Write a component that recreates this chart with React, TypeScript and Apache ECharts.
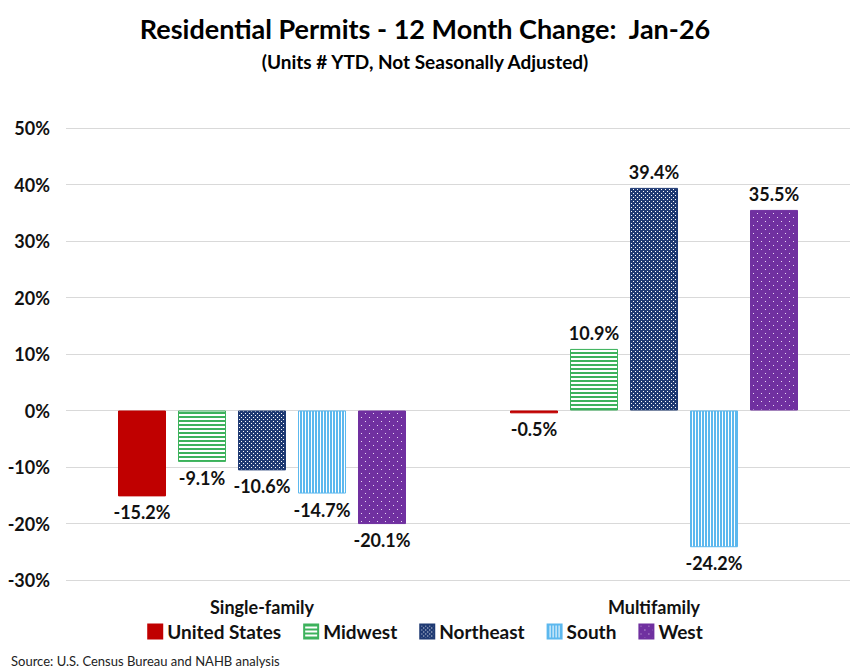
import React, { useEffect, useRef } from "react";
import * as echarts from "echarts";

const categories = ["Single-family", "Multifamily"];
const seriesNames = ["United States", "Midwest", "Northeast", "South", "West"];
const usValues = [-15.2, -0.5];
const midwestValues = [-9.1, 10.9];
const northeastValues = [-10.6, 39.4];
const southValues = [-14.7, -24.2];
const westValues = [-20.1, 35.5];
const yTicks = { min: -30, max: 50, interval: 10 };

const FONT = "Lato";

function makePattern(kind: string): any {
  const c = document.createElement("canvas");
  const ctx = c.getContext("2d")!;
  if (kind === "us") {
    return "#C00000";
  }
  if (kind === "midwest") {
    c.width = 4; c.height = 4;
    ctx.fillStyle = "#ffffff"; ctx.fillRect(0, 0, 4, 4);
    ctx.fillStyle = "#3DB25C"; ctx.fillRect(0, 0, 4, 2);
  } else if (kind === "northeast") {
    c.width = 4; c.height = 4;
    ctx.fillStyle = "#1F3A73"; ctx.fillRect(0, 0, 4, 4);
    ctx.fillStyle = "#ffffff"; ctx.fillRect(1, 1, 1, 1); ctx.fillRect(3, 3, 1, 1);
  } else if (kind === "south") {
    c.width = 3; c.height = 3;
    ctx.fillStyle = "#ffffff"; ctx.fillRect(0, 0, 3, 3);
    ctx.fillStyle = "#5CB8EE"; ctx.fillRect(0, 0, 2, 3);
  } else if (kind === "west") {
    c.width = 8; c.height = 8;
    ctx.fillStyle = "#7030A0"; ctx.fillRect(0, 0, 8, 8);
    ctx.fillStyle = "#E8D8F2"; ctx.fillRect(1, 1, 1, 1); ctx.fillRect(5, 5, 1, 1);
  }
  return { image: c, repeat: "repeat" };
}

export default function App() {
  const ref = useRef<HTMLDivElement>(null);
  useEffect(() => {
    document.body.style.margin = "0";
    const chart = echarts.init(ref.current!, null, { renderer: "svg" });
    const defs = [
      { name: seriesNames[0], data: usValues, kind: "us", border: "#C00000" },
      { name: seriesNames[1], data: midwestValues, kind: "midwest", border: "#3DB25C" },
      { name: seriesNames[2], data: northeastValues, kind: "northeast", border: "#1F3A73" },
      { name: seriesNames[3], data: southValues, kind: "south", border: "#5CB8EE" },
      { name: seriesNames[4], data: westValues, kind: "west", border: "#7030A0" },
    ];
    const series = defs.map((d) => ({
      name: d.name,
      type: "bar",
      barWidth: 48,
      barGap: "25%",
      itemStyle: { color: makePattern(d.kind), borderColor: d.border, borderWidth: 1 },
      data: d.data.map((v) => ({
        value: v,
        label: {
          show: true,
          position: v < 0 ? "bottom" : "top",
          distance: 7,
          formatter: (p: any) => p.value.toFixed(1) + "%",
          fontFamily: FONT,
          fontWeight: "bold",
          fontSize: 18,
          color: "#111",
        },
      })),
    }));
    chart.setOption({
      animation: false,
      title: [
        {
          text: "Residential Permits - 12 Month Change:  Jan-26",
          left: "center",
          top: 10,
          textStyle: { fontFamily: FONT, fontWeight: "bold", fontSize: 27, color: "#000" },
        },
        {
          text: "(Units # YTD, Not Seasonally Adjusted)",
          left: "center",
          top: 47,
          textStyle: { fontFamily: FONT, fontWeight: "bold", fontSize: 19, color: "#000" },
        },
        {
          text: "Source: U.S. Census Bureau and NAHB analysis",
          left: 6,
          top: 649,
          textStyle: { fontFamily: FONT, fontWeight: "normal", fontSize: 13, color: "#222" },
        },
      ],
      legend: {
        data: seriesNames,
        bottom: 24,
        left: "center",
        itemWidth: 14,
        itemHeight: 14,
        itemGap: 22,
        icon: "rect",
        textStyle: { fontFamily: FONT, fontWeight: "bold", fontSize: 19, color: "#111" },
      },
      grid: { left: 66, right: 0, top: 128, bottom: 90 },
      xAxis: {
        type: "category",
        data: categories,
        axisLine: { show: false },
        axisTick: { show: false },
        axisLabel: { fontFamily: FONT, fontWeight: "bold", fontSize: 18, color: "#111", margin: 18 },
      },
      yAxis: {
        type: "value",
        min: yTicks.min,
        max: yTicks.max,
        interval: yTicks.interval,
        axisLabel: {
          formatter: (v: number) => v + "%",
          fontFamily: FONT,
          fontWeight: "bold",
          fontSize: 18,
          color: "#111",
          margin: 16,
        },
        splitLine: { lineStyle: { color: "#D9D9D9" } },
      },
      series,
    });
    return () => chart.dispose();
  }, []);
  return <div ref={ref} style={{ width: 850, height: 670 }} />;
}
